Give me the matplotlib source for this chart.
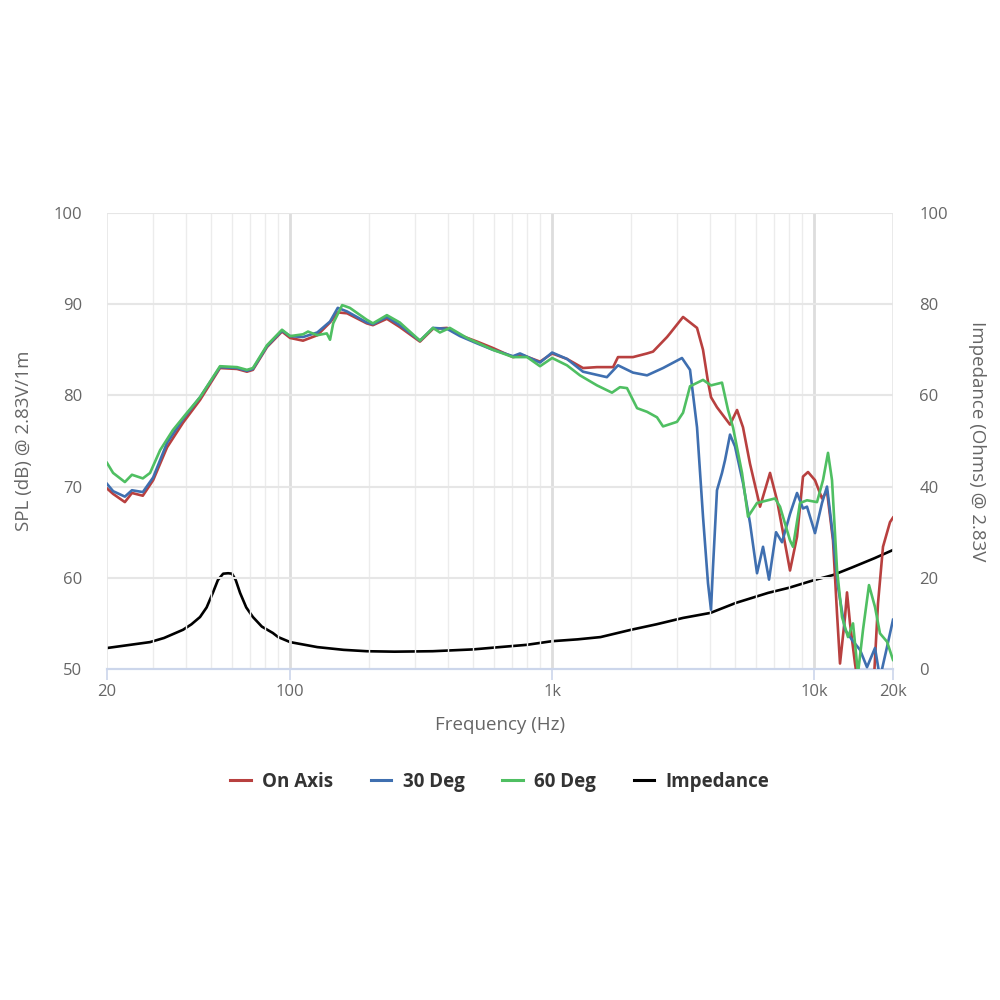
import matplotlib
matplotlib.use("Agg")
import matplotlib.pyplot as plt
from matplotlib.ticker import FixedLocator, NullFormatter, FixedFormatter
from matplotlib.lines import Line2D

plt.rcParams['font.family'] = ['Open Sans', 'DejaVu Sans']

# ---------------- data ----------------
on_axis_f = [20, 21.1, 23.4, 24.9, 27.4, 30.0, 33.9, 39.0, 45.3, 54.0, 62.7, 68.4, 72.1, 81.6, 93.1,
             100, 112, 127, 142, 152, 165, 196, 207, 234, 262, 313, 351, 397, 445, 517, 594, 709,
             774, 899, 1000, 1139, 1312, 1483, 1709, 1784, 2035, 2303, 2427, 2745, 2818, 3160, 3573,
             3766, 3935, 4040, 4258, 4775, 5079, 5352, 5692, 6216, 6787, 7218, 8090, 8604, 9068,
             9476, 10078, 10716, 11198, 11804, 12228, 12554, 13118, 13350, 13708, 14322, 14964,
             16776, 17530, 18316, 19478, 20000]
on_axis_db = [69.8, 69.2, 68.3, 69.3, 69.0, 70.7, 74.3, 77.0, 79.5, 83.0, 82.9, 82.6, 82.8, 85.3, 87.0,
              86.3, 86.0, 86.6, 88.0, 89.1, 89.0, 87.9, 87.7, 88.4, 87.5, 85.9, 87.3, 87.4, 86.6, 85.9,
              85.2, 84.2, 84.4, 83.7, 84.6, 84.0, 83.0, 83.1, 83.1, 84.2, 84.2, 84.6, 84.8, 86.4, 86.8,
              88.6, 87.4, 85.0, 81.5, 79.8, 78.7, 76.8, 78.4, 76.5, 72.5, 67.8, 71.5, 68.5, 60.8, 64.5,
              71.1, 71.6, 70.7, 68.7, 69.5, 64.1, 56.1, 50.6, 55.7, 58.4, 55.0, 50.6, 47.0,
              47.0, 57.2, 63.4, 66.1, 66.6]

deg30_f = [20, 21.1, 23.4, 24.9, 27.4, 30.0, 33.9, 39.0, 45.3, 54.0, 62.7, 68.4, 72.1, 81.6, 93.1,
           100, 112, 127, 142, 152, 165, 196, 207, 234, 262, 313, 351, 397, 445, 517, 594, 709, 754,
           899, 1000, 1139, 1312, 1618, 1784, 2035, 2303, 2650, 3130, 3360, 3573, 3766, 3935, 4040,
           4112, 4258, 4450, 4570, 4775, 4990, 5352, 5692, 6054, 6382, 6728, 7156, 7542, 8090, 8604,
           9068, 9392, 10078, 10716, 11198, 11804, 12336, 13118, 13950, 14964, 15914, 17074, 17840,
           18972, 20000]
deg30_db = [70.3, 69.5, 68.9, 69.6, 69.4, 71.0, 74.8, 77.4, 79.8, 83.1, 83.0, 82.7, 82.9, 85.4, 87.1,
            86.5, 86.4, 86.9, 88.1, 89.6, 89.2, 88.0, 87.8, 88.6, 87.7, 86.0, 87.4, 87.3, 86.5, 85.7,
            85.0, 84.3, 84.6, 83.6, 84.7, 84.0, 82.6, 82.0, 83.3, 82.5, 82.2, 83.0, 84.1, 82.8, 76.5,
            66.7, 59.4, 56.5, 61.2, 69.6, 71.5, 72.9, 75.7, 74.4, 70.4, 66.0, 60.5, 63.4, 59.8, 65.0,
            63.9, 67.0, 69.3, 67.6, 67.8, 64.9, 68.2, 70.0, 64.5, 59.0, 54.3, 53.2, 52.1, 50.2, 52.3,
            49.0, 52.4, 55.4]

deg60_f = [20, 21.1, 23.4, 24.9, 27.4, 29.2, 31.9, 35.7, 40.4, 45.3, 54.0, 62.7, 68.4, 72.1, 81.6,
           93.1, 100, 112, 117, 127, 138, 142, 146, 158, 169, 196, 207, 234, 262, 313, 351, 373, 407,
           473, 594, 709, 802, 899, 1000, 1139, 1277, 1483, 1692, 1815, 1931, 2110, 2303, 2513, 2650,
           2996, 3160, 3360, 3766, 4040, 4450, 4692, 4902, 5306, 5594, 6054, 7090, 7410, 8090, 8306,
           8832, 9392, 10256, 10810, 11298, 11702, 12228, 12776, 13468, 14074, 14704, 15366, 16196,
           17074, 17840, 18972, 20000]
deg60_db = [72.6, 71.5, 70.5, 71.3, 70.9, 71.5, 74.0, 76.2, 78.1, 79.8, 83.2, 83.1, 82.8, 83.0, 85.5,
            87.2, 86.5, 86.7, 87.0, 86.6, 86.8, 86.1, 87.9, 89.9, 89.6, 88.3, 87.9, 88.8, 88.0, 86.0,
            87.4, 86.9, 87.4, 86.3, 85.0, 84.2, 84.2, 83.2, 84.1, 83.3, 82.2, 81.1, 80.3, 80.9, 80.8,
            78.6, 78.2, 77.6, 76.6, 77.1, 78.1, 81.0, 81.7, 81.1, 81.4, 78.4, 76.5, 71.5, 66.7, 68.2,
            68.7, 67.8, 64.1, 63.4, 68.2, 68.5, 68.3, 70.7, 73.7, 70.7, 60.9, 55.7, 53.5, 55.0, 49.5,
            54.3, 59.2, 56.8, 53.9, 53.0, 51.0]

imp_f = [20, 29.2, 33, 39, 42, 45.3, 48, 50.7, 53, 55.5, 58, 60, 62, 64.4, 68, 72.1, 78, 85.9, 90,
         100, 127, 160, 196, 250, 350, 500, 630, 800, 1000, 1250, 1530, 2000, 2500, 3160, 4020, 5030,
         6680, 8000, 10000, 11800, 14000, 17000, 20000]
imp_ohm = [4.6, 5.9, 6.8, 8.6, 9.8, 11.4, 13.5, 16.7, 19.5, 20.9, 21.0, 20.9, 19.5, 16.7, 13.5, 11.4,
           9.3, 7.9, 7.0, 5.9, 4.8, 4.2, 3.9, 3.8, 3.9, 4.3, 4.8, 5.3, 6.1, 6.5, 7.0, 8.6, 9.8, 11.2,
           12.3, 14.5, 16.7, 17.8, 19.5, 20.6, 22.3, 24.3, 26.1]

x_tick_vals = [20, 100, 1000, 10000, 20000]
x_tick_labels = ['20', '100', '1k', '10k', '20k']
spl_ticks = [50, 60, 70, 80, 90, 100]
imp_ticks = [0, 20, 40, 60, 80, 100]
series_labels = ['On Axis', '30 Deg', '60 Deg', 'Impedance']

# ---------------- styling ----------------
RED = '#b8403f'
BLUE = '#3f6fb0'
GREEN = '#4fbf62'
BLACK = '#000000'
TXT = '#666666'
GRID = '#e6e6e6'

fig = plt.figure(figsize=(10, 10), dpi=100)
ax = fig.add_axes([0.107, 0.331, 0.786, 0.456])
ax2 = ax.twinx()

ax.set_xscale('log')
ax.set_xlim(20, 20000)
ax.set_ylim(50, 100)
ax2.set_ylim(0, 100)

minor = []
for dec in [10, 100, 1000, 10000]:
    for m in range(2, 10):
        v = dec * m
        if 20 < v < 20000 and v not in (100, 1000, 10000):
            minor.append(v)
for v in minor:
    ax.axvline(v, color='#ececec', lw=1.0, zorder=0)
for v in [100, 1000, 10000]:
    ax.axvline(v, color='#dddddd', lw=2.0, zorder=0)
for v in [20, 20000]:
    ax.axvline(v, color='#e6e6e6', lw=1.2, zorder=0)
for y in spl_ticks[1:]:
    ax.axhline(y, color=GRID, lw=1.5, zorder=0)

ax.plot(on_axis_f, on_axis_db, color=RED, lw=1.9, zorder=3, solid_joinstyle='round')
ax.plot(deg30_f, deg30_db, color=BLUE, lw=1.9, zorder=4, solid_joinstyle='round')
ax.plot(deg60_f, deg60_db, color=GREEN, lw=1.9, zorder=5, solid_joinstyle='round')
ax2.plot(imp_f, imp_ohm, color=BLACK, lw=1.9, zorder=6, solid_joinstyle='round')

ax.xaxis.set_major_locator(FixedLocator(x_tick_vals))
ax.xaxis.set_major_formatter(FixedFormatter(x_tick_labels))
ax.xaxis.set_minor_locator(FixedLocator([]))
ax.xaxis.set_minor_formatter(NullFormatter())
ax.set_yticks(spl_ticks)
ax2.set_yticks(imp_ticks)

for a in (ax, ax2):
    for s in ['top', 'left', 'right']:
        a.spines[s].set_visible(False)
    a.spines['bottom'].set_color('#ccd6eb')
    a.spines['bottom'].set_linewidth(1.5)

ax.tick_params(axis='x', colors='#ccd6eb', length=8, width=1.2, labelcolor=TXT, labelsize=12, pad=3)
ax.tick_params(axis='y', length=0, labelcolor=TXT, labelsize=12, pad=18)
ax2.tick_params(axis='y', length=0, labelcolor=TXT, labelsize=12, pad=19)

ax.set_zorder(ax2.get_zorder() + 1)
ax.patch.set_visible(False)

fig.text(0.5, 0.275, 'Frequency (Hz)', color=TXT, fontsize=13.5, ha='center', va='center')
fig.text(0.024, 0.559, 'SPL (dB) @ 2.83V/1m', color=TXT, fontsize=13.5, rotation=90,
         ha='center', va='center')
fig.text(0.977, 0.559, 'Impedance (Ohms) @ 2.83V', color=TXT, fontsize=13.5, rotation=270,
         ha='center', va='center')

handles = [Line2D([], [], color=c, lw=2.2) for c in (RED, BLUE, GREEN, BLACK)]
leg = fig.legend(handles, series_labels, loc='center', bbox_to_anchor=(0.5, 0.218), ncol=4,
                 frameon=False, prop={'weight': 'bold', 'size': 13.5}, handlelength=1.07,
                 handletextpad=0.64, columnspacing=2.0)
for t in leg.get_texts():
    t.set_color('#333333')

fig.savefig('out.png', dpi=100, facecolor='white')
